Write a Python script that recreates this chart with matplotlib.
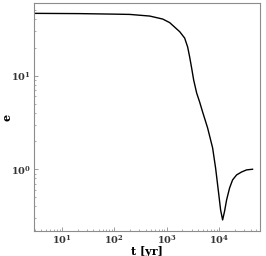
import numpy as np
import matplotlib
matplotlib.use("Agg")
import matplotlib.pyplot as plt

# eccentricity evolution
t_yr = [2.93, 22.0, 102, 197, 475, 840, 1140, 1420, 1770, 2200, 2510, 2740,
        2990, 3270, 3730, 4250, 4850, 6040, 7520, 8570, 9780, 10680,
        11670, 12740, 13900, 15850, 18080, 21530, 26840, 33420, 43440]
ecc = [46.5, 46.2, 45.6, 45.3, 43.5, 40.4, 37.0, 33.1, 29.6, 25.3, 20.3, 15.9,
       12.1, 9.0, 6.53, 5.24, 4.09, 2.76, 1.69, 1.03, 0.558, 0.367,
       0.287, 0.358, 0.470, 0.631, 0.769, 0.869, 0.935, 0.984, 1.0]

plt.rcParams['font.family'] = ['DejaVu Serif']
plt.rcParams['font.weight'] = 'bold'

fig = plt.figure(figsize=(2.66, 2.56), dpi=100)
ax = fig.add_axes([0.126, 0.098, 0.851, 0.89])
ax.plot(t_yr, ecc, color='black', lw=1.0)
ax.set_xscale('log')
ax.set_yscale('log')
ax.set_xlim(2.87, 6.0e4)
ax.set_ylim(0.219, 59.9)

for s in ax.spines.values():
    s.set_color('0.55')
    s.set_linewidth(0.8)
ax.tick_params(which='both', direction='in', colors='0.55', labelcolor='0.2',
               labelsize=7, pad=2)
ax.tick_params(which='major', length=3, width=0.6)
ax.tick_params(which='minor', length=1.5, width=0.5)
for lab in ax.get_xticklabels() + ax.get_yticklabels():
    lab.set_fontweight('bold')

ax.set_xlabel('t [yr]', fontsize=8, fontweight='bold', labelpad=0)
ax.set_ylabel('e', fontsize=8, fontweight='bold')
ax.yaxis.set_label_coords(-0.095, 0.5)

fig.savefig('out.png', dpi=100)
